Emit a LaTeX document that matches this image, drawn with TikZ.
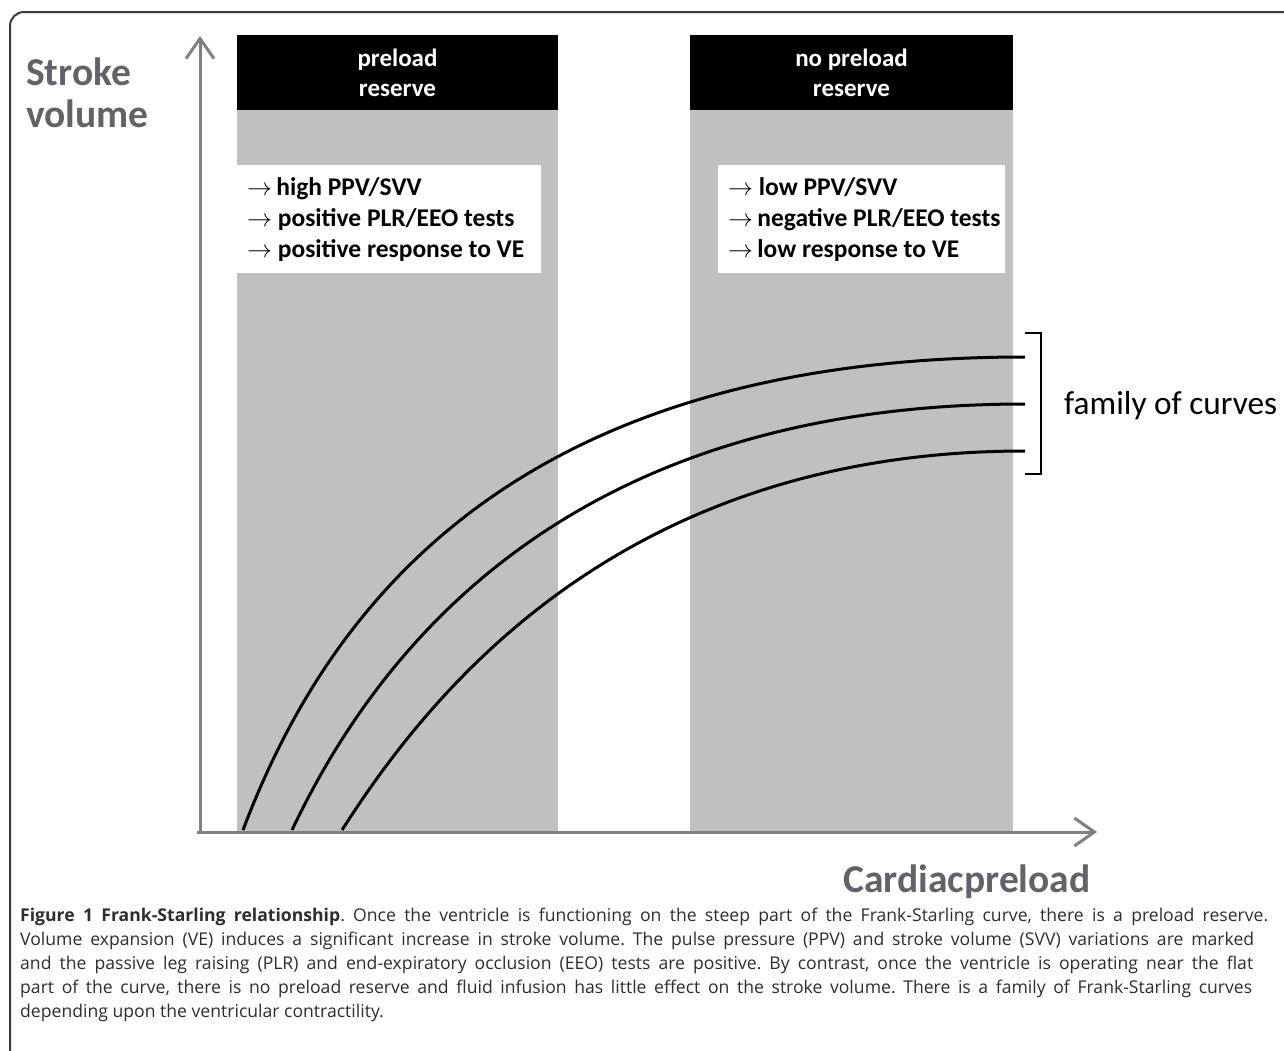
\documentclass[tikz,border=0pt]{standalone}
\usepackage{fontspec}
\setmainfont{Carlito}
\newfontfamily\capfont{Open Sans}
\usetikzlibrary{arrows.meta}
\definecolor{axisgray}{RGB}{128,128,128}
\definecolor{bandgray}{RGB}{192,192,192}
\definecolor{labgray}{RGB}{98,98,104}
\definecolor{capcol}{RGB}{45,45,45}
\definecolor{framecol}{RGB}{60,60,60}
\tikzset{
  axis/.style={draw=axisgray, line width=3pt, -{Straight Barb[length=20pt,width=28pt,line width=3pt]}},
  band/.style={fill=bandgray, draw=none},
  header/.style={fill=black, text=white, font=\bfseries\fontsize{25}{30}\selectfont, align=center, inner sep=0pt},
  wbox/.style={fill=white, draw=none},
  bullets/.style={anchor=west, align=left, inner sep=0pt, font=\bfseries\fontsize{25.5}{31}\selectfont},
  curve/.style={draw=black, line width=3pt},
  bracket/.style={draw=black, line width=1.3pt},
  axlabel/.style={text=labgray, font=\bfseries\fontsize{39.5}{42}\selectfont, inner sep=0pt},
  capline/.style={anchor=west, inner sep=0pt, text=capcol, font=\capfont\frenchspacing\fontsize{17.6}{24}\selectfont}
}
\begin{document}
\begin{tikzpicture}[x=1pt,y=-1pt]
\useasboundingbox (0,0) rectangle (1284,1050);
\draw[line width=2pt, rounded corners=14pt, draw=framecol] (10,12) rectangle (1330,1090);

% bands
\fill[band] (237,110) rectangle (558,832);
\fill[band] (690,110) rectangle (1013,832);
\node[header, minimum width=321pt, minimum height=75pt] (h1) at (397.5,72.5) {preload\\reserve};
\node[header, minimum width=323pt, minimum height=75pt] (h2) at (851.5,72.5) {no preload\\reserve};

% white boxes
\fill[wbox] (237,165) rectangle (541,273);
\fill[wbox] (718,165) rectangle (1005,273);
\node[bullets] (b1) at (247,220) {$\rightarrow$\,high PPV/SVV\\$\rightarrow$ positive PLR/EEO tests\\$\rightarrow$ positive response to VE};
\node[bullets] (b2) at (728,220) {$\rightarrow$ low PPV/SVV\\$\rightarrow$\,negative PLR/EEO tests\\$\rightarrow$\,low response to VE};

% curves
\coordinate (s1) at (243,830); \coordinate (e1) at (1025,357);
\coordinate (s2) at (292,830); \coordinate (e2) at (1025,404);
\coordinate (s3) at (342,830); \coordinate (e3) at (1025,451);
\draw[curve] (s1) .. controls (330,600) and (520,357) .. (e1);
\draw[curve] (s2) .. controls (379,647) and (569,404) .. (e2);
\draw[curve] (s3) .. controls (429,694) and (619,451) .. (e3);

% axes
\coordinate (ytip) at (200,36);
\coordinate (xtip) at (1097,832);
\coordinate (ybot) at (200,834);
\coordinate (xstart) at (197,832);
\draw[axis] (ybot) -- (ytip);
\draw[axis] (xstart) -- (xtip);

% bracket
\coordinate (bt) at (1041,333);
\coordinate (bb) at (1041,474);
\draw[bracket] ([xshift=-16pt]bt) -- (bt) -- (bb) -- ([xshift=-16pt]bb);
\node[anchor=west, inner sep=0pt, font=\fontsize{33.3}{36}\selectfont] (fam) at (1064,406) {family of curves};

% axis labels
\node[axlabel, anchor=north west, align=left] (ylab) at (26,58) {Stroke\\volume};
\node[axlabel, anchor=center] (xlab) at (967,882) {Cardiacpreload};

% caption
\node[capline] (c1) at (20,917) {\makebox[1248pt][s]{\textbf{Figure 1 Frank-Starling relationship}. Once the ventricle is functioning on the steep part of the Frank-Starling curve, there is a preload reserve.}};
\node[capline] (c2) at (20,941) {\makebox[1234pt][s]{Volume expansion (VE) induces a significant increase in stroke volume. The pulse pressure (PPV) and stroke volume (SVV) variations are marked}};
\node[capline] (c3) at (20,965) {\makebox[1233pt][s]{and the passive leg raising (PLR) and end-expiratory occlusion (EEO) tests are positive. By contrast, once the ventricle is operating near the flat}};
\node[capline] (c4) at (20,989) {\makebox[1232pt][s]{part of the curve, there is no preload reserve and fluid infusion has little effect on the stroke volume. There is a family of Frank-Starling curves}};
\node[capline] (c5) at (20,1013) {depending upon the ventricular contractility.};
\end{tikzpicture}
\end{document}
